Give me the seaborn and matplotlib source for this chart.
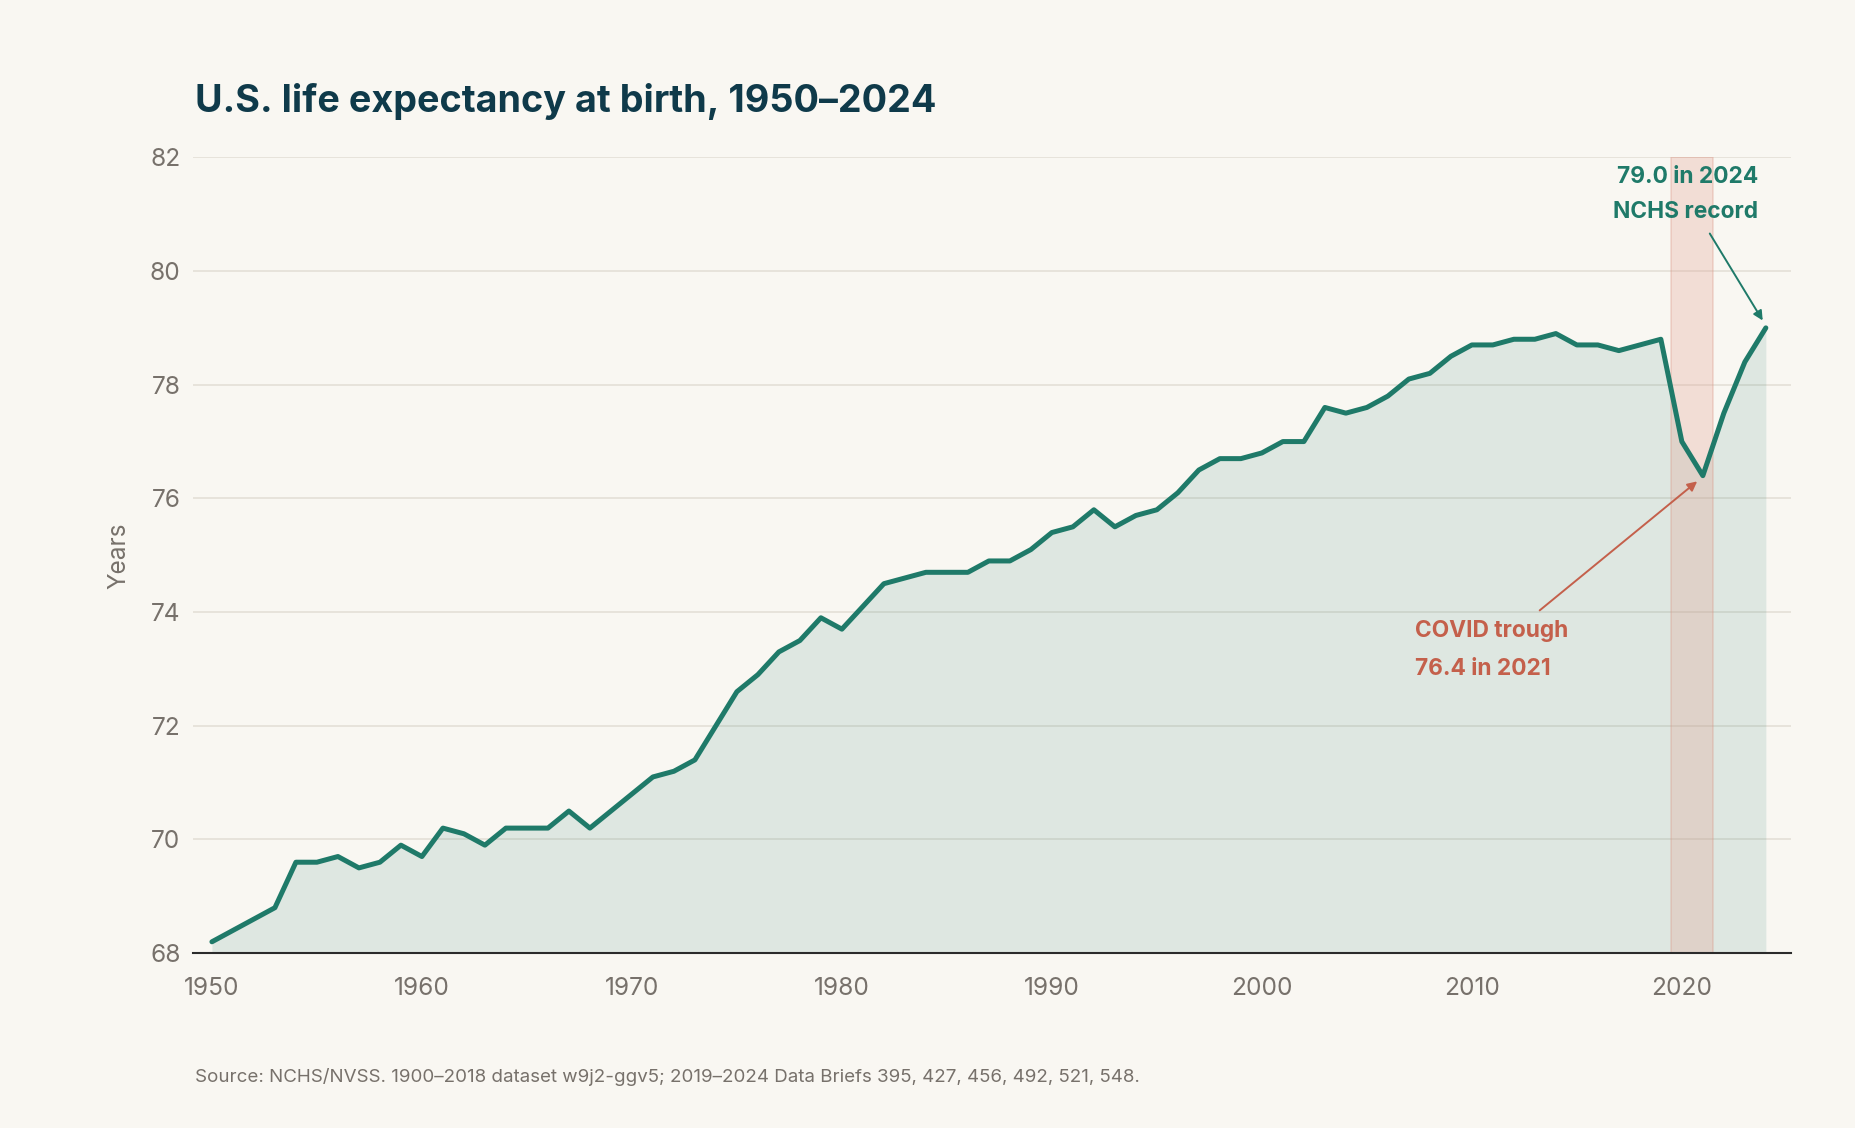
import matplotlib
matplotlib.use("Agg")
import matplotlib.pyplot as plt
import seaborn as sns
import pandas as pd

# U.S. life expectancy at birth (NCHS)
years = list(range(1950, 2025))
life_exp = [
    68.2, 68.4, 68.6, 68.8, 69.6, 69.6, 69.7, 69.5, 69.6, 69.9,  # 1950s
    69.7, 70.2, 70.1, 69.9, 70.2, 70.2, 70.2, 70.5, 70.2, 70.5,  # 1960s
    70.8, 71.1, 71.2, 71.4, 72.0, 72.6, 72.9, 73.3, 73.5, 73.9,  # 1970s
    73.7, 74.1, 74.5, 74.6, 74.7, 74.7, 74.7, 74.9, 74.9, 75.1,  # 1980s
    75.4, 75.5, 75.8, 75.5, 75.7, 75.8, 76.1, 76.5, 76.7, 76.7,  # 1990s
    76.8, 77.0, 77.0, 77.6, 77.5, 77.6, 77.8, 78.1, 78.2, 78.5,  # 2000s
    78.7, 78.7, 78.8, 78.8, 78.9, 78.7, 78.7, 78.6, 78.7, 78.8,  # 2010s
    77.0, 76.4, 77.5, 78.4, 79.0,                                # 2020-2024
]
covid_span = (2019.5, 2021.5)
y_ticks = [68, 70, 72, 74, 76, 78, 80, 82]
x_ticks = [1950, 1960, 1970, 1980, 1990, 2000, 2010, 2020]

df = pd.DataFrame({"year": years, "years": life_exp})

BG = "#f9f7f2"
TEAL = "#1f7a69"
RED = "#c4604b"
GREY = "#77716b"
NAVY = "#0f3a4a"

sns.set_theme(style="white", rc={
    "figure.facecolor": BG,
    "axes.facecolor": BG,
    "savefig.facecolor": BG,
})
plt.rcParams["font.family"] = ["Inter", "DejaVu Sans"]

fig = plt.figure(figsize=(9.28, 5.64), dpi=200)
ax = fig.add_axes([0.104, 0.155, 0.861, 0.7055])

# grid
for v in y_ticks:
    ax.axhline(v, color="#e4dfd7", lw=0.6, zorder=0)

ax.fill_between(df["year"], df["years"], 68, color=TEAL, alpha=0.12, lw=0, zorder=1)
ax.axvspan(*covid_span, facecolor="#e3a493", alpha=0.3, edgecolor="#d99080",
           lw=0.6, zorder=2)
sns.lineplot(data=df, x="year", y="years", ax=ax, color=TEAL, lw=1.8, zorder=3)

ax.set_xlim(1949.1, 2025.2)
ax.set_ylim(68, 82)
ax.set_xticks(x_ticks)
ax.set_yticks(y_ticks)
ax.tick_params(axis="x", length=3.6, width=0.7, color="#2b2b2b", pad=5,
               labelsize=8.8, labelcolor=GREY)
ax.tick_params(axis="y", length=0, pad=4.5, labelsize=8.8, labelcolor=GREY)
for s in ["top", "right", "left"]:
    ax.spines[s].set_visible(False)
ax.spines["bottom"].set_color("#2b2b2b")
ax.spines["bottom"].set_linewidth(0.75)
ax.set_xlabel("")
ax.set_ylabel("Years", fontsize=8.8, color=GREY, labelpad=7)

# annotations
ax.text(2023.62, 81.35, "79.0 in 2024\nNCHS record", ha="right", va="center",
        fontsize=8.2, fontweight="bold", color=TEAL, linespacing=1.75)
ax.annotate("", xy=(2023.85, 79.13), xytext=(2021.33, 80.66),
            arrowprops=dict(arrowstyle="-|>", color=TEAL, lw=0.7,
                            mutation_scale=7, shrinkA=0, shrinkB=0))
ax.annotate("", xy=(2020.73, 76.3), xytext=(2013.23, 74.03),
            arrowprops=dict(arrowstyle="-|>", color=RED, lw=0.7,
                            mutation_scale=7, shrinkA=0, shrinkB=0))
ax.text(2007.3, 73.34, "COVID trough\n76.4 in 2021", ha="left", va="center",
        fontsize=8.2, fontweight="bold", color=RED, linespacing=1.95)

fig.text(195 / 1856, 1 - 112 / 1128, "U.S. life expectancy at birth, 1950\u20132024",
         fontsize=13.6, fontweight="bold", color=NAVY, va="baseline", ha="left")
fig.text(195 / 1856, 1 - 1077 / 1128,
         "Source: NCHS/NVSS. 1900\u20132018 dataset w9j2-ggv5; 2019\u20132024 Data Briefs 395, 427, 456, 492, 521, 548.",
         fontsize=6.75, color=GREY, va="center", ha="left")

fig.savefig("out.png", dpi=200)
